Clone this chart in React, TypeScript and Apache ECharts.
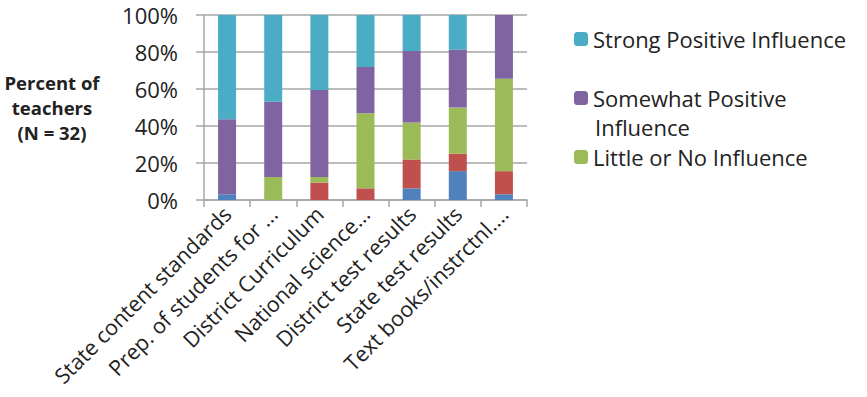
import React, { useEffect, useRef } from "react";
import * as echarts from "echarts";

const categories = [
  "State content standards",
  "Prep. of students for ...",
  "District Curriculum",
  "National science...",
  "District test results",
  "State test results",
  "Text books/instrctnl....",
];
const strongNegative = [3.1, 0, 0, 0, 6.3, 15.6, 3.1];
const somewhatNegative = [0, 0, 9.4, 6.3, 15.6, 9.4, 12.5];
const littleOrNo = [0, 12.5, 3.1, 40.6, 20.0, 25.0, 50.0];
const somewhatPositive = [40.6, 40.6, 46.9, 25.0, 38.6, 31.3, 34.4];
const strongPositive = [56.3, 46.9, 40.6, 28.1, 19.5, 18.7, 0];
const yTicks = [0, 20, 40, 60, 80, 100];

const FONT = "Open Sans";

export default function App() {
  const ref = useRef<HTMLDivElement>(null);
  useEffect(() => {
    if (!ref.current) return;
    const chart = echarts.init(ref.current, undefined, { renderer: "svg" });
    const mk = (name: string, data: number[], color: string) => ({
      name,
      type: "bar",
      stack: "total",
      data,
      barWidth: 18,
      itemStyle: { color },
    });
    chart.setOption({
      animation: false,
      textStyle: { fontFamily: FONT },
      grid: { left: 204, right: 340, top: 15, bottom: 197 },
      legend: {
        orient: "vertical",
        left: 569,
        top: 22,
        itemWidth: 14,
        itemHeight: 14,
        itemGap: 35,
        data: ["Strong Positive Influence", "Somewhat Positive", "Little or No Influence"],
        textStyle: { fontFamily: FONT, fontSize: 22, color: "#222", lineHeight: 24 },
        selectedMode: false,
      },
      graphic: [
        {
          type: "text",
          x: 595,
          y: 127,
          style: {
            text: "Influence",
            fontFamily: FONT,
            fontSize: 22,
            fill: "#222",
            verticalAlign: "middle",
            lineHeight: 20,
          },
        },
        {
          type: "text",
          x: 52,
          y: 107,
          style: {
            text: "Percent of\nteachers\n(N = 32)",
            fontFamily: FONT,
            fontSize: 18.5,
            fontWeight: "bold",
            fill: "#222",
            align: "center",
            verticalAlign: "middle",
            lineHeight: 25,
          },
        },
      ],
      xAxis: {
        type: "category",
        data: categories,
        axisLine: { lineStyle: { color: "#a6a6a6", width: 1.5 } },
        axisTick: { show: true, length: 7, lineStyle: { color: "#a6a6a6", width: 1.5 } },
        axisLabel: {
          rotate: 45,
          interval: 0,
          margin: 10,
          fontFamily: FONT,
          fontSize: 21.5,
          color: "#222",
        },
      },
      yAxis: {
        type: "value",
        min: yTicks[0],
        max: yTicks[yTicks.length - 1],
        interval: 20,
        axisLine: { show: true, lineStyle: { color: "#a6a6a6", width: 1.5 } },
        axisTick: { show: true, length: 8, lineStyle: { color: "#a6a6a6", width: 1.5 } },
        splitLine: { lineStyle: { color: "#a6a6a6", width: 1.5 } },
        axisLabel: {
          formatter: "{value}%",
          margin: 26,
          fontFamily: FONT,
          fontSize: 22,
          color: "#222",
        },
      },
      series: [
        mk("Strong Negative Influence", strongNegative, "#4F81BD"),
        mk("Somewhat Negative Influence", somewhatNegative, "#C0504D"),
        mk("Little or No Influence", littleOrNo, "#9BBB59"),
        mk("Somewhat Positive", somewhatPositive, "#8064A2"),
        mk("Strong Positive Influence", strongPositive, "#4BACC6"),
      ],
    });
    return () => chart.dispose();
  }, []);
  return (
    <div
      ref={ref}
      style={{ position: "absolute", left: 0, top: 0, width: 867, height: 397 }}
    />
  );
}
